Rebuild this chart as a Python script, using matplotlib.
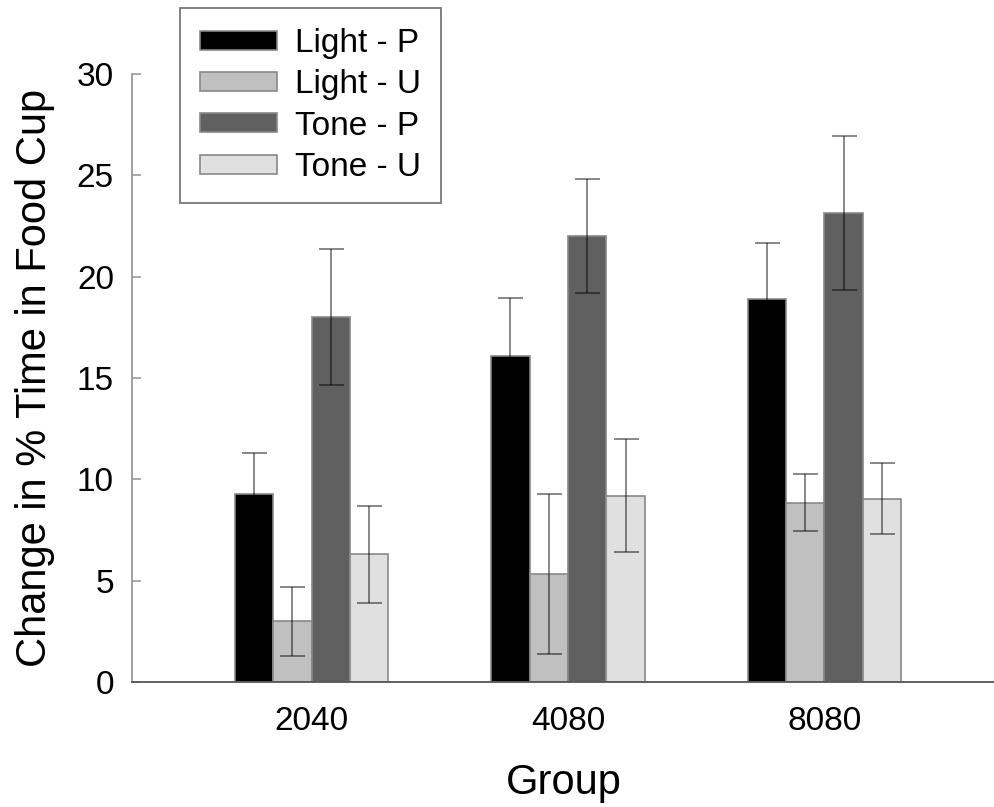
import matplotlib.pyplot as plt
import numpy as np

plt.rcParams['font.family'] = ['Liberation Sans', 'DejaVu Sans']

groups = ['2040', '4080', '8080']
series = ['Light - P', 'Light - U', 'Tone - P', 'Tone - U']
colors = ['#000000', '#c0c0c0', '#606060', '#e0e0e0']

light_p = [9.3, 16.1, 18.9]
light_u = [3.0, 5.35, 8.85]
tone_p = [18.0, 22.0, 23.15]
tone_u = [6.3, 9.2, 9.05]
values = [light_p, light_u, tone_p, tone_u]

light_p_err = [2.0, 2.85, 2.75]
light_u_err = [1.7, 3.95, 1.4]
tone_p_err = [3.35, 2.8, 3.8]
tone_u_err = [2.4, 2.8, 1.75]
errors = [light_p_err, light_u_err, tone_p_err, tone_u_err]

fig = plt.figure(figsize=(9.95, 8.07), dpi=100)
ax = fig.add_axes([132 / 995, 1 - 682 / 807, 1 - 132 / 995, (682 - 74) / 807])

x = np.arange(len(groups))
w = 0.15
for i in range(4):
    pos = x + (i - 1.5) * w
    ax.bar(pos, values[i], width=w, color=colors[i], edgecolor='#888888',
           linewidth=1.2, label=series[i], zorder=2)
    ax.errorbar(pos, values[i], yerr=errors[i], fmt='none', ecolor='black',
                alpha=0.5, elinewidth=1.3, capsize=9, capthick=1.3, zorder=3)

ax.set_xlim(-0.70, 2.665)
ax.set_ylim(0, 30)
ax.set_yticks([0, 5, 10, 15, 20, 25, 30])
ax.set_xticks(x)
ax.set_xticklabels(groups)

ax.spines['top'].set_visible(False)
ax.spines['right'].set_visible(False)
ax.spines['left'].set_color('#999999')
ax.spines['left'].set_linewidth(1.3)
ax.spines['bottom'].set_color('#555555')
ax.spines['bottom'].set_linewidth(1.3)

ax.tick_params(axis='y', direction='in', length=6.5, width=1.2, color='#999999',
               labelsize=24, pad=13)
ax.tick_params(axis='x', length=0, labelsize=24, pad=17)

ax.set_ylabel('Change in % Time in Food Cup', fontsize=30, labelpad=16)
ax.set_xlabel('Group', fontsize=30, labelpad=19)

leg = ax.legend(loc='upper left', bbox_to_anchor=(180 / 995, 1 - 8 / 807),
                bbox_transform=fig.transFigure, borderaxespad=0, fontsize=24,
                fancybox=False, framealpha=1, edgecolor='#777777',
                handlelength=2.3, handleheight=0.5, handletextpad=0.55,
                labelspacing=0.31, borderpad=0.6)
leg.get_frame().set_linewidth(1.3)

fig.savefig('out.png', dpi=100)
